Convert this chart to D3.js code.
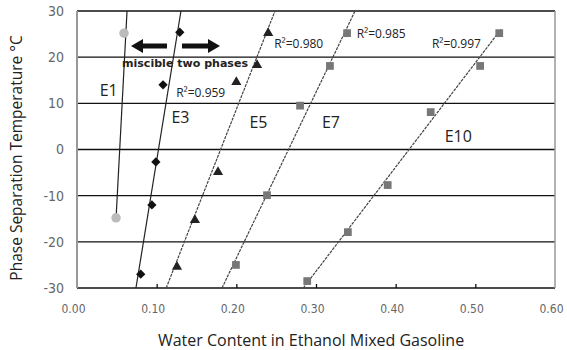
<!DOCTYPE html>
<html>
<head>
<meta charset="utf-8">
<script src="https://cdn.jsdelivr.net/npm/d3@7"></script>
<style>
  body { margin: 0; background: #fff; }
  svg { display: block; }
</style>
</head>
<body>
<svg id="chart"></svg>
<script>
const width = 567;
const height = 350;

// series: water content (x) vs phase separation temperature (y)
const e1X = [0.059, 0.049];
const e1Y = [25.2, -14.8];
const e3X = [0.129, 0.108, 0.099, 0.094, 0.080];
const e3Y = [25.4, 14.0, -2.7, -12.0, -27.0];
const e5X = [0.240, 0.226, 0.200, 0.177, 0.148, 0.1255];
const e5Y = [25.2, 18.3, 14.6, -4.9, -15.3, -25.4];
const e7X = [0.339, 0.3175, 0.280, 0.2385, 0.1995];
const e7Y = [25.2, 18.1, 9.5, -9.9, -25.0];
const e10X = [0.530, 0.506, 0.444, 0.390, 0.340, 0.289];
const e10Y = [25.2, 18.1, 8.1, -7.7, -17.9, -28.5];

// trend lines: start and end points
const trendNames = ["E1", "E3", "E5", "E7", "E10"];
const trendX0 = [0.049, 0.074, 0.112, 0.182, 0.284];
const trendY0 = [-15, -30, -30, -30, -30];
const trendX1 = [0.0628, 0.1305, 0.2485, 0.349, 0.532];
const trendY1 = [30, 30, 30, 30, 26];

const r2Labels = ["R²=0.959", "R²=0.980", "R²=0.985", "R²=0.997"];

const xTicks = [0, 0.1, 0.2, 0.3, 0.4, 0.5, 0.6];
const yTicks = [-30, -20, -10, 0, 10, 20, 30];

const margin = { top: 11, right: 12, bottom: 62, left: 77 };

const svg = d3.select("#chart").attr("width", width).attr("height", height);

const x = d3.scaleLinear().domain([0, 0.6]).range([margin.left, width - margin.right]);
const y = d3.scaleLinear().domain([-30, 30]).range([height - margin.bottom, margin.top]);

// grid lines
svg.append("g")
  .selectAll("line")
  .data(yTicks)
  .enter()
  .append("line")
  .attr("x1", x(0))
  .attr("x2", x(0.6))
  .attr("y1", (d) => y(d))
  .attr("y2", (d) => y(d))
  .attr("stroke", "#111")
  .attr("stroke-width", 1.3);

// left and right frame (gray)
svg.append("line")
  .attr("x1", x(0)).attr("x2", x(0))
  .attr("y1", y(30)).attr("y2", y(-30))
  .attr("stroke", "#999").attr("stroke-width", 2);
svg.append("line")
  .attr("x1", x(0.6)).attr("x2", x(0.6))
  .attr("y1", y(30)).attr("y2", y(-30))
  .attr("stroke", "#999").attr("stroke-width", 1.5);

// x axis ticks + labels
const xAxis = d3.axisBottom(x).tickValues(xTicks).tickSize(-4).tickPadding(16)
  .tickFormat(d3.format(".2f"));
const gx = svg.append("g")
  .attr("transform", `translate(0,${y(-30)})`)
  .call(xAxis);
gx.select(".domain").remove();
gx.selectAll(".tick line")
  .attr("stroke", "#111")
  .attr("stroke-width", 1.3)
  .filter((d) => d === 0 || d === 0.6).remove();
gx.selectAll("text")
  .attr("fill", "#666")
  .attr("dx", -4)
  .style("font-family", "'DejaVu Sans Condensed', sans-serif")
  .style("font-size", "12px");

const yAxis = d3.axisLeft(y).tickValues(yTicks).tickSize(0).tickPadding(13)
  .tickFormat((d) => String(d));
const gy = svg.append("g")
  .attr("transform", `translate(${x(0)},0)`)
  .call(yAxis);
gy.select(".domain").remove();
gy.selectAll("text")
  .attr("fill", "#666")
  .style("font-family", "'DejaVu Sans Condensed', sans-serif")
  .style("font-size", "14px");

// axis titles
svg.append("text")
  .attr("x", 311)
  .attr("y", 346)
  .attr("text-anchor", "middle")
  .style("font-family", "'Open Sans', sans-serif")
  .style("font-size", "16px")
  .attr("fill", "#222")
  .text("Water Content in Ethanol Mixed Gasoline");

svg.append("text")
  .attr("transform", `translate(22,158) rotate(-90)`)
  .attr("text-anchor", "middle")
  .style("font-family", "'Open Sans', sans-serif")
  .style("font-size", "15.5px")
  .attr("fill", "#222")
  .text("Phase Separation Temperature °C");

// trend lines
const trends = trendNames.map((n, i) => ({
  name: n, x0: trendX0[i], y0: trendY0[i], x1: trendX1[i], y1: trendY1[i],
}));
svg.append("g")
  .selectAll("line")
  .data(trends)
  .enter()
  .append("line")
  .attr("x1", (d) => x(d.x0))
  .attr("y1", (d) => y(d.y0))
  .attr("x2", (d) => x(d.x1))
  .attr("y2", (d) => y(d.y1))
  .attr("stroke", (d) => (d.name === "E1" || d.name === "E3" ? "#222" : "#444"))
  .attr("stroke-width", 1.2)
  .attr("stroke-dasharray", (d) => (d.name === "E1" || d.name === "E3" ? null : "3,1"));

// markers
const series = [
  { xs: e1X, ys: e1Y, shape: d3.symbolCircle, size: 70, color: "#bbb" },
  { xs: e3X, ys: e3Y, shape: d3.symbolDiamond2, size: 55, color: "#111" },
  { xs: e5X, ys: e5Y, shape: d3.symbolTriangle, size: 45, color: "#222" },
  { xs: e7X, ys: e7Y, shape: d3.symbolSquare, size: 60, color: "#777" },
  { xs: e10X, ys: e10Y, shape: d3.symbolSquare, size: 60, color: "#777" },
];
series.forEach((s) => {
  svg.append("g")
    .selectAll("path")
    .data(s.xs.map((v, i) => [v, s.ys[i]]))
    .enter()
    .append("path")
    .attr("d", d3.symbol().type(s.shape).size(s.size))
    .attr("transform", (d) => `translate(${x(d[0])},${y(d[1])})`)
    .attr("fill", s.color);
});

// series names
const nameX = [0.0285, 0.1185, 0.2165, 0.3075, 0.4615];
const nameY = [11.5, 5.7, 4.6, 4.6, 1.7];
svg.append("g")
  .selectAll("text")
  .data(trendNames)
  .enter()
  .append("text")
  .attr("x", (d, i) => x(nameX[i]))
  .attr("y", (d, i) => y(nameY[i]))
  .style("font-family", "'Open Sans', sans-serif")
  .style("font-size", "16px")
  .attr("fill", "#222")
  .text((d) => d);

// R² labels
const r2X = [0.1245, 0.2475, 0.351, 0.4455];
const r2Y = [11.4, 21.9, 24.1, 21.9];
svg.append("g")
  .selectAll("text")
  .data(r2Labels)
  .enter()
  .append("text")
  .attr("x", (d, i) => x(r2X[i]))
  .attr("y", (d, i) => y(r2Y[i]))
  .style("font-family", "'Open Sans', sans-serif")
  .style("font-size", "12px")
  .attr("fill", "#222")
  .text((d) => d);

// miscible / two phases arrows
const arrow = (from, to) => {
  const yy = 46;
  const dir = Math.sign(to - from);
  svg.append("line")
    .attr("x1", from).attr("x2", to - dir * 9)
    .attr("y1", yy).attr("y2", yy)
    .attr("stroke", "#111").attr("stroke-width", 5);
  svg.append("path")
    .attr("d", `M${to},${yy} L${to - dir * 12},${yy - 7} L${to - dir * 12},${yy + 7} Z`)
    .attr("fill", "#111");
};
arrow(167, 131);
arrow(182, 220);

svg.append("text")
  .attr("x", 122)
  .attr("y", 67)
  .style("font-family", "'DejaVu Sans', sans-serif")
  .style("font-weight", "bold")
  .style("font-size", "11px")
  .attr("textLength", 126)
  .attr("lengthAdjust", "spacingAndGlyphs")
  .attr("fill", "#222")
  .text("miscible two phases");
</script>
</body>
</html>
